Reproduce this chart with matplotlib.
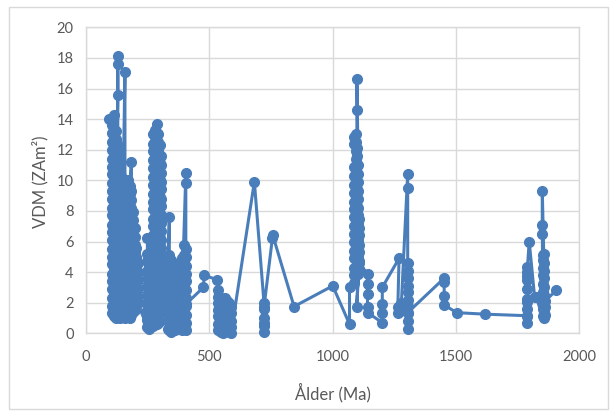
import matplotlib
matplotlib.use("Agg")
import matplotlib.pyplot as plt
from matplotlib.patches import Rectangle

plt.rcParams['font.family'] = ['Lato', 'DejaVu Sans']

# Each cluster: a list of sample ages (Ma) and, for every age, the VDM values (ZAm^2)
# in the order they are joined by the line.

# Cretaceous cluster
age_a = [95, 107, 113, 120, 125, 129, 136, 144, 151, 158, 165, 172, 178, 184, 191, 198, 204, 209]
vdm_a = [
    [14.0],
    [13.6, 13.1, 12.5, 12.0, 11.4, 10.9, 10.4, 9.8, 9.3, 8.8, 8.2, 7.7, 7.1, 6.6, 6.1, 5.5, 5.0, 4.5, 3.9, 3.4, 2.9, 2.3, 1.8, 1.3],
    [1.1, 1.6, 2.2, 2.7, 3.2, 3.8, 4.3, 4.8, 5.4, 5.9, 6.4, 7.0, 7.5, 8.0, 8.6, 9.1, 9.7, 10.2, 10.7, 11.3, 11.8, 12.4, 12.9, 13.3, 14.3],
    [13.2, 12.7, 12.1, 11.6, 11.0, 10.5, 10.0, 9.4, 8.9, 8.3, 7.8, 7.3, 6.7, 6.2, 5.6, 5.1, 4.6, 4.0, 3.5, 3.0, 2.4, 1.9, 1.4, 1.0],
    [1.2, 1.7, 2.3, 2.8, 3.3, 3.9, 4.4, 5.0, 5.5, 6.0, 6.6, 7.1, 7.6, 8.2, 8.7, 9.2, 9.8, 10.3, 10.9, 11.4, 11.9, 12.4],
    [15.6, 17.6, 18.1, 12.0, 11.5, 10.9, 10.4, 9.9, 9.3, 8.8, 8.2, 7.7, 7.2, 6.6, 6.1, 5.6, 5.0, 4.5, 3.9, 3.4, 2.9, 2.3, 1.8, 1.2],
    [1.0, 1.5, 2.1, 2.6, 3.1, 3.7, 4.2, 4.8, 5.3, 5.8, 6.4, 6.9, 7.4, 8.0, 8.5, 9.1, 9.6, 10.1],
    [10.3, 9.8, 9.2, 8.7, 8.1, 7.6, 7.1, 6.5, 6.0, 5.4, 4.9, 4.4, 3.8, 3.3, 2.7, 2.2, 1.7, 1.1],
    [1.3, 1.8, 2.4, 2.9, 3.5, 4.0, 4.5, 5.1, 5.6, 6.2, 6.7, 7.2, 7.8, 8.3, 8.9, 9.4, 10.0],
    [17.1, 9.7, 9.1, 8.6, 8.1, 7.5, 7.0, 6.4, 5.9, 5.3, 4.8, 4.3, 3.7, 3.2, 2.6, 2.1, 1.6, 1.0],
    [1.2, 1.7, 2.3, 2.8, 3.4, 3.9, 4.4, 5.0, 5.5, 6.1, 6.6, 7.1, 7.7, 8.2, 8.8, 9.3, 9.9],
    [10.0, 9.4, 8.9, 8.3, 7.8, 7.3, 6.7, 6.2, 5.6, 5.1, 4.6, 4.0, 3.5, 2.9, 2.4, 1.9, 1.3],
    [1.0, 1.5, 2.1, 2.6, 3.2, 3.7, 4.2, 4.8, 5.3, 5.9, 6.4, 6.9, 7.5, 8.0, 8.6, 9.1, 9.6],
    [11.2, 9.3, 8.7, 8.2, 7.6, 7.1, 6.6, 6.0, 5.5, 4.9, 4.4, 3.9, 3.3, 2.8, 2.2, 1.7, 1.2],
    [1.4, 1.9, 2.5, 3.0, 3.6, 4.1, 4.6, 5.2, 5.7, 6.3, 6.8, 7.4, 7.9],
    [6.9, 6.3, 5.8, 5.3, 4.7, 4.2, 3.6, 3.1, 2.6, 2.0, 1.5],
    [1.8, 2.3, 2.9, 3.4, 3.9, 4.5, 5.0, 5.6],
    [4.6, 4.0, 3.5, 2.9, 2.4, 2.0],
]

# Permian-Carboniferous cluster
age_b = [249, 257, 272, 280, 287, 294, 300, 305]
vdm_b = [
    [0.4, 0.9, 1.5, 2.0, 2.5, 3.1, 3.6, 4.1, 4.7, 5.2, 6.2],
    [4.9, 4.4, 3.8, 3.3, 2.7, 2.2, 1.7, 1.1, 0.6, 0.3],
    [0.5, 1.0, 1.6, 2.1, 2.7, 3.2, 3.7, 4.3, 4.8, 5.4, 5.9, 6.4, 7.0, 7.5, 8.1, 8.6, 9.1, 9.7, 10.2, 10.8, 11.3, 11.9, 12.4, 13.0],
    [13.3, 12.8, 12.2, 11.7, 11.1, 10.6, 10.0, 9.5, 9.0, 8.4, 7.9, 7.3, 6.8, 6.3, 5.7, 5.2, 4.6, 4.1, 3.6, 3.0, 2.5, 1.9, 1.4, 0.9],
    [0.6, 1.2, 1.7, 2.3, 2.8, 3.3, 3.9, 4.4, 5.0, 5.5, 6.0, 6.6, 7.1, 7.7, 8.2, 8.7, 9.3, 9.8, 10.4, 10.9, 11.4, 12.0, 12.5, 13.1, 13.7],
    [13.0, 12.5, 11.9, 11.4, 10.8, 10.3, 9.8, 9.2, 8.7, 8.1, 7.6, 7.1, 6.5, 6.0, 5.4, 4.9, 4.4, 3.8, 3.3, 2.7, 2.2, 1.7, 1.1, 0.7],
    [0.8, 1.3, 1.9, 2.4, 3.0, 3.5, 4.0, 4.6, 5.1, 5.7, 6.2, 6.7, 7.3, 7.8, 8.4, 8.9, 9.4, 10.0, 10.5, 11.1, 11.6, 12.3],
    [11.6, 11.0, 10.5, 9.9, 9.4, 8.8, 8.3, 7.7, 7.2, 6.7, 6.1, 5.6, 5.0, 4.5, 4.0, 3.4, 2.9],
]

# Carboniferous-Devonian clusters
age_c = [333, 338, 346, 354, 362, 388, 396, 405]
vdm_c = [
    [0.3, 0.8, 1.3, 1.9, 2.4, 2.9, 3.5, 4.0, 4.5, 5.0],
    [7.6, 5.1, 4.6, 4.0, 3.5, 3.0, 2.4, 1.9, 1.4, 0.8, 0.2],
    [0.1, 0.6, 1.2, 1.7, 2.2, 2.8, 3.3, 3.8, 4.4, 4.8],
    [4.6, 4.1, 3.5, 3.0, 2.5, 1.9, 1.4, 0.9, 0.3],
    [0.2, 0.7, 1.3, 1.8, 2.3, 2.9, 3.4, 3.9, 4.3],
    [4.9, 4.4, 3.8, 3.3, 2.8, 2.2, 1.7, 1.2, 0.6, 0.2],
    [0.3, 0.8, 1.4, 1.9, 2.4, 3.0, 3.5, 4.0, 4.6, 5.1, 5.8],
    [10.5, 9.8, 5.5, 5.0, 4.4, 3.9, 3.4, 2.8, 2.3, 1.8, 1.2, 0.7, 0.2, 1.9],
]

# Cambrian-Ediacaran to Tonian samples
age_e = [476, 480, 531, 537, 546, 555, 564, 573, 581, 589, 683, 722, 756, 757, 844, 1001, 1069]
vdm_e = [
    [3.0],
    [3.8],
    [3.5],
    [2.8, 2.4, 2.0, 1.5, 1.1, 0.6, 0.2],
    [0.1, 0.5, 1.0, 1.4, 1.9, 2.3],
    [2.2, 1.8, 1.3, 0.9, 0.4, 0.05],
    [0.2, 0.6, 1.1, 1.5, 2.0, 2.3],
    [2.1, 1.7, 1.2, 0.8, 0.3],
    [0.1, 0.6, 1.0, 1.5, 1.9, 2.0],
    [1.7, 1.3, 0.8, 0.4, 0.05],
    [9.9],
    [2.0, 1.6, 1.0, 0.5, 0.1, 0.7, 1.7],
    [6.2],
    [6.45],
    [1.75],
    [3.1],
    [0.6, 3.0],
]

# Mesoproterozoic samples
age_g = [1087, 1094, 1099, 1104, 1098, 1107, 1142, 1202, 1270, 1265, 1278, 1305]
vdm_g = [
    [3.3, 3.8, 4.3, 4.9, 5.4, 6.0, 6.5, 7.0, 7.6, 8.1, 8.6, 9.2, 9.7, 10.3, 10.9, 12.4, 12.85],
    [13.0, 12.5, 11.9, 11.4, 10.8, 10.3, 9.7, 9.2, 8.7, 8.1, 7.6, 7.0, 6.5, 6.0, 5.4, 4.9, 4.3, 3.8],
    [4.0, 4.5, 5.1, 5.6, 6.2, 6.7, 7.2, 7.8, 8.3, 8.9, 9.4, 9.9, 10.5, 11.0, 11.6, 12.1, 14.6, 16.6],
    [11.0, 10.4, 9.9, 9.3, 8.8, 8.2, 7.7, 7.2, 6.6, 6.1, 5.5, 5.0, 4.5, 3.9],
    [1.7],
    [4.2, 4.7, 5.3, 5.8, 6.4, 6.9, 7.5, 4.6],
    [3.9, 3.2, 2.6, 1.7, 1.35],
    [0.7, 1.3, 1.9, 3.0],
    [4.9],
    [1.7, 1.3],
    [2.0, 1.5],
    [10.4, 9.5, 4.6, 4.1, 3.6, 3.1, 2.7, 2.2, 1.8, 1.3, 0.8, 0.3, 1.35],
]

# Paleoproterozoic samples
age_p = [1453, 1504, 1619, 1788, 1791, 1798, 1820, 1826, 1852, 1851, 1857, 1862, 1907]
vdm_p = [
    [3.6, 3.35, 2.45, 1.85],
    [1.35],
    [1.25],
    [1.15],
    [0.7, 1.1, 1.6, 2.05, 2.25, 2.9, 3.5, 3.75, 4.0, 4.35],
    [6.0],
    [2.35],
    [2.4],
    [1.1, 1.6, 2.2, 2.7, 3.2, 3.8, 4.3, 4.8, 5.1],
    [6.5, 7.1, 9.3],
    [5.2, 4.6, 4.1, 3.6, 3.0, 2.5, 1.9, 1.4, 1.0],
    [1.2, 1.7, 2.1],
    [2.8],
]

x_ticks = [0, 500, 1000, 1500, 2000]
y_ticks = list(range(0, 21, 2))

ages, vdm = [], []
for col_ages, col_vals in [(age_a, vdm_a), (age_b, vdm_b), (age_c, vdm_c),
                           (age_e, vdm_e), (age_g, vdm_g), (age_p, vdm_p)]:
    for a, vals in zip(col_ages, col_vals):
        ages.extend([a] * len(vals))
        vdm.extend(vals)

blue = '#4a7ebb'
grid_c = '#d9d9d9'
text_c = '#595959'

fig = plt.figure(figsize=(6.12, 4.12), dpi=100)
ax = fig.add_axes([86 / 612, 1 - 333.3 / 412, (579 - 86) / 612, (333.3 - 27.3) / 412])

ax.plot(ages, vdm, color=blue, lw=2.2, marker='o', ms=7.0,
        markerfacecolor=blue, markeredgecolor=blue, clip_on=False, zorder=3)

ax.set_xlim(0, 2000)
ax.set_ylim(0, 20)
ax.set_xticks(x_ticks)
ax.set_yticks(y_ticks)
ax.grid(True, color=grid_c, lw=1)
ax.set_axisbelow(True)
for s in ax.spines.values():
    s.set_color(grid_c)
    s.set_linewidth(1)
ax.tick_params(length=0, labelsize=10.5, labelcolor=text_c)
ax.tick_params(axis='y', pad=9)
ax.tick_params(axis='x', pad=12)

ax.set_xlabel('Ålder (Ma)', fontsize=12, color=text_c)
ax.set_ylabel('VDM (ZAm²)', fontsize=12, color=text_c)
ax.xaxis.set_label_coords((333 - 86) / (579 - 86), -(393 - 333.3) / (333.3 - 27.3))
ax.yaxis.set_label_coords(-(86 - 40) / (579 - 86), (333.3 - 182) / (333.3 - 27.3))
ax.xaxis.label.set_va('center')
ax.yaxis.label.set_va('center')

fig.patches.append(Rectangle((9 / 612, 1 - 409 / 412), (608 - 9) / 612, (409 - 7) / 412,
                             transform=fig.transFigure, fill=False,
                             edgecolor=grid_c, lw=1))

fig.savefig('out.png', dpi=100)
